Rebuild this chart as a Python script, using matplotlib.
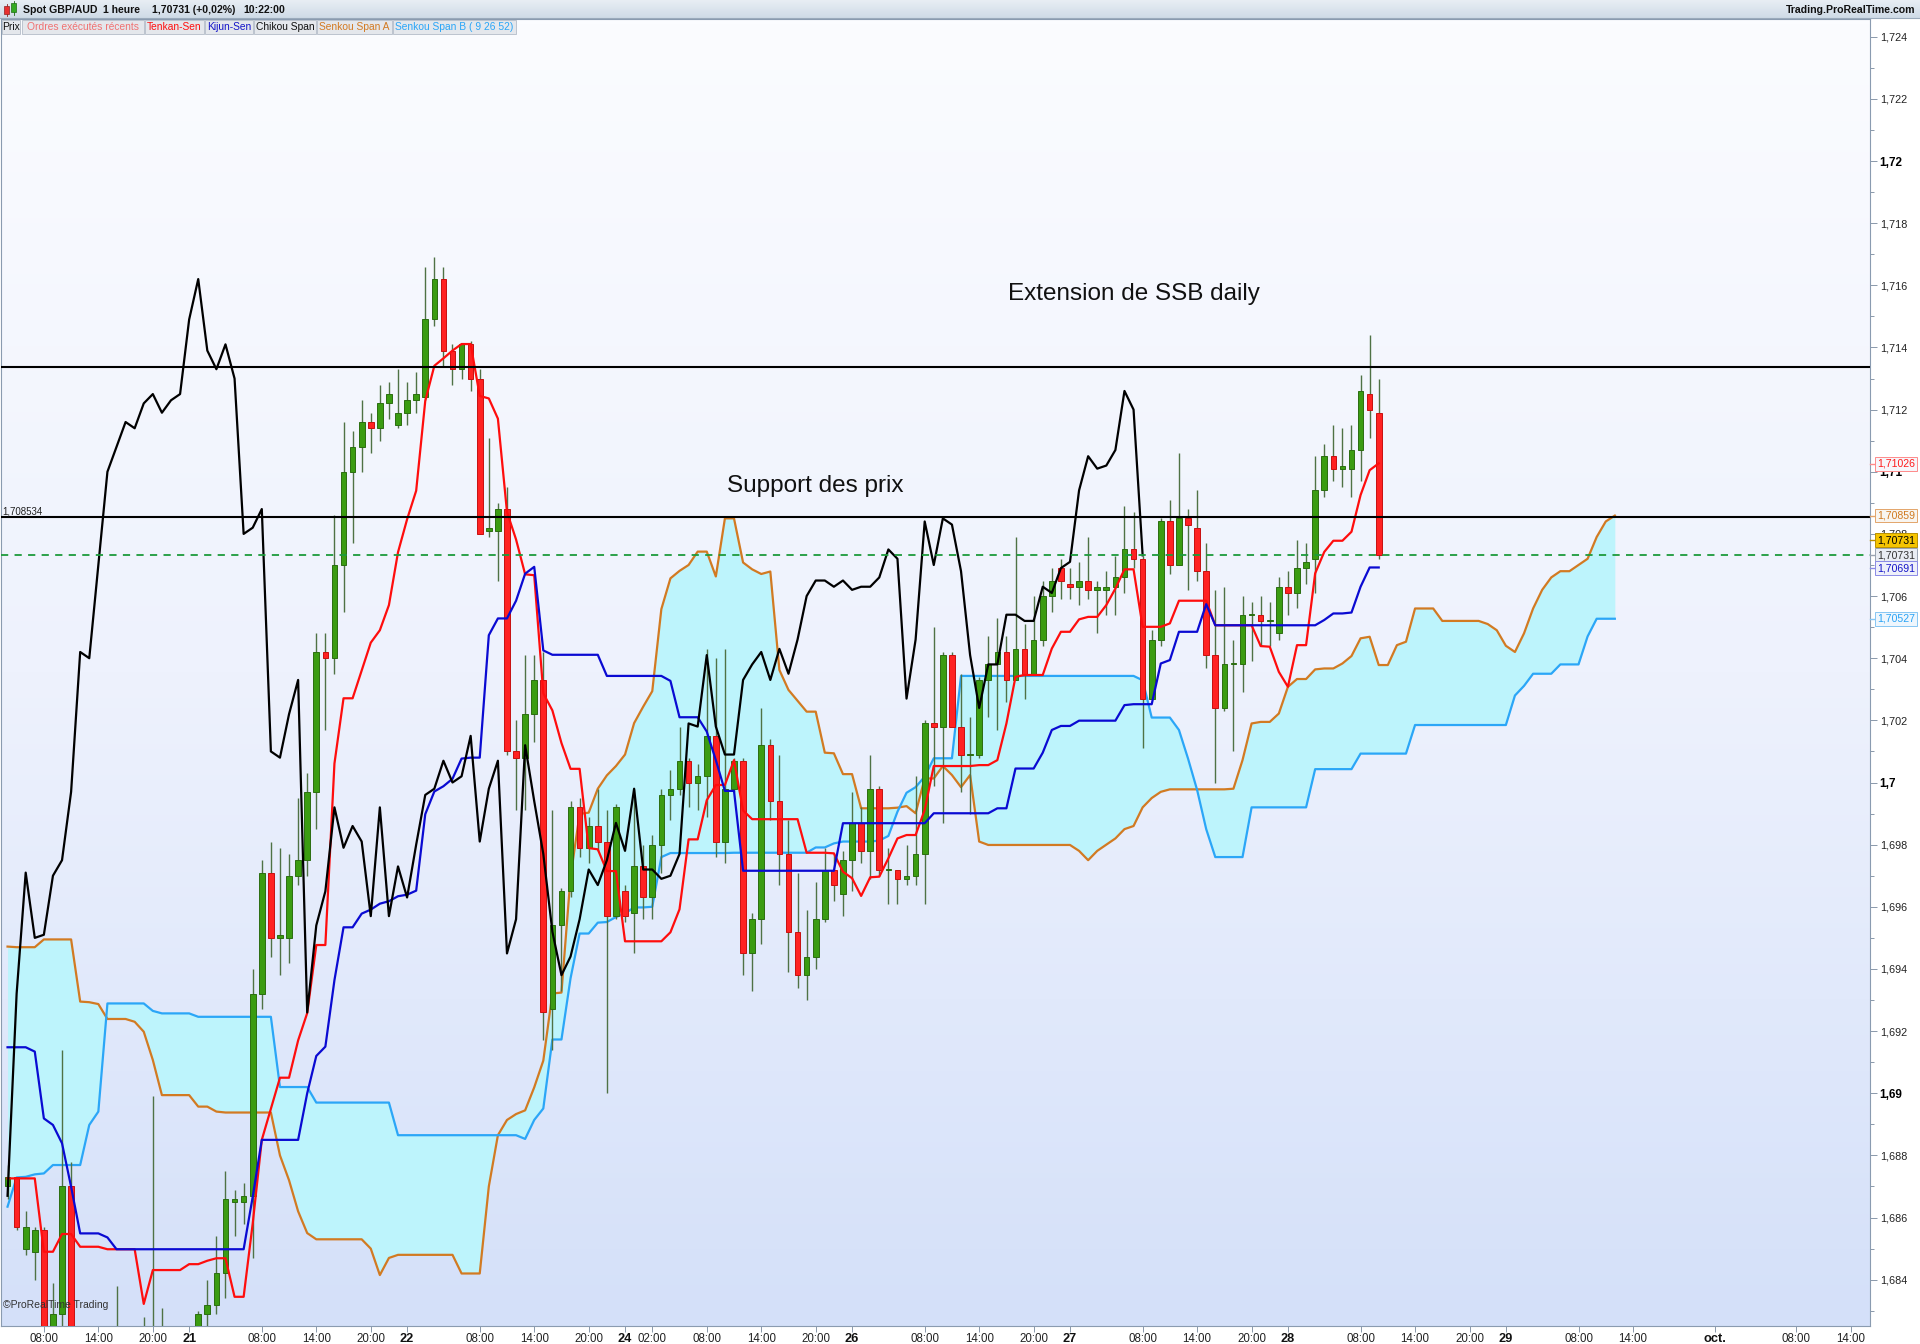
import numpy as np
import matplotlib
matplotlib.use("Agg")
import matplotlib.pyplot as plt
from matplotlib.colors import LinearSegmentedColormap
from matplotlib.patches import Rectangle
from matplotlib.transforms import blended_transform_factory

plt.rcParams['font.family'] = ['Liberation Sans', 'DejaVu Sans']

# ---------------- data (hourly bars, x = trading-hour index, 0 = 20 sept 00:00) -------------
FIRST_BAR = 4
SHIFT = 26

opens = [
    1.6870, 1.6873, 1.6850, 1.6849, 1.6856, 1.6812, 1.6829, 1.6870, 1.6795, 1.6790,
    1.6800, 1.6808, 1.6805, 1.6812, 1.6806, 1.6815, 1.6808, 1.6812, 1.6815, 1.6810,
    1.6812, 1.6818, 1.6829, 1.6832, 1.6842, 1.6865, 1.6865, 1.6867, 1.6932, 1.6971,
    1.6950, 1.6950, 1.6970, 1.6975, 1.6997, 1.7042, 1.7040, 1.7070, 1.7100, 1.7108,
    1.7116, 1.7114, 1.7122, 1.7115, 1.7119, 1.7123, 1.7124, 1.7149, 1.7162, 1.7139,
    1.7133, 1.7141, 1.7130, 1.7081, 1.7081, 1.7088, 1.7010, 1.7008, 1.7022, 1.7033,
    1.6927, 1.6954, 1.6965, 1.6992, 1.6979, 1.6986, 1.6981, 1.6957, 1.6965, 1.6958,
    1.6973, 1.6963, 1.6980, 1.6996, 1.6998, 1.7007, 1.7000, 1.7002, 1.7015, 1.6981,
    1.6998, 1.7007, 1.6945, 1.6956, 1.7012, 1.6994, 1.6977, 1.6952, 1.6938, 1.6944,
    1.6956, 1.6972, 1.6964, 1.6975, 1.6987, 1.6978, 1.6998, 1.6972, 1.6972, 1.6969,
    1.6970, 1.6977, 1.7019, 1.7018, 1.7041, 1.7018, 1.7009, 1.7009, 1.7033, 1.7038,
    1.7042, 1.7033, 1.7043, 1.7035, 1.7046, 1.7060, 1.7069, 1.7064, 1.7063, 1.7065,
    1.7062, 1.7062, 1.7063, 1.7066, 1.7075, 1.7072, 1.7027, 1.7046, 1.7084, 1.7070,
    1.7085, 1.7082, 1.7068, 1.7041, 1.7024, 1.7038, 1.7038, 1.7054, 1.7054, 1.7052,
    1.7048, 1.7063, 1.7061, 1.7069, 1.7072, 1.7094, 1.7105, 1.7101, 1.7101, 1.7107,
    1.7125, 1.7119,
]
highs = [
    1.6877, 1.6873, 1.6862, 1.6857, 1.6857, 1.6839, 1.6914, 1.6878, 1.6810, 1.6805,
    1.6815, 1.6818, 1.6838, 1.6820, 1.6824, 1.6828, 1.6899, 1.6831, 1.6822, 1.6820,
    1.6824, 1.6830, 1.6840, 1.6854, 1.6875, 1.6869, 1.6871, 1.6940, 1.6975, 1.6981,
    1.6979, 1.6977, 1.6995, 1.7003, 1.7048, 1.7048, 1.7086, 1.7116, 1.7113, 1.7123,
    1.7119, 1.7128, 1.7129, 1.7133, 1.7129, 1.7132, 1.7166, 1.7169, 1.7166, 1.7141,
    1.7141, 1.7142, 1.7133, 1.7111, 1.7090, 1.7095, 1.7020, 1.7041, 1.7041, 1.7042,
    1.6991, 1.6966, 1.6994, 1.6995, 1.6989, 1.6998, 1.6991, 1.6993, 1.6967, 1.6998,
    1.6980, 1.6983, 1.6998, 1.7004, 1.7018, 1.7008, 1.7006, 1.7043, 1.7040, 1.7043,
    1.7008, 1.7008, 1.6958, 1.7024, 1.7014, 1.7009, 1.6988, 1.6971, 1.6959, 1.6968,
    1.6979, 1.6977, 1.6978, 1.6997, 1.6992, 1.7009, 1.6999, 1.6979, 1.6972, 1.6980,
    1.7002, 1.7020, 1.7050, 1.7042, 1.7042, 1.7035, 1.7021, 1.7034, 1.7047, 1.7053,
    1.7047, 1.7079, 1.7051, 1.7060, 1.7065, 1.7069, 1.7072, 1.7069, 1.7071, 1.7079,
    1.7065, 1.7068, 1.7073, 1.7089, 1.7087, 1.7073, 1.7049, 1.7085, 1.7091, 1.7106,
    1.7088, 1.7094, 1.7077, 1.7062, 1.7063, 1.7046, 1.7060, 1.7058, 1.7060, 1.7058,
    1.7066, 1.7068, 1.7078, 1.7077, 1.7105, 1.7109, 1.7115, 1.7114, 1.7115, 1.7131,
    1.7144, 1.7130,
]
lows = [
    1.6866, 1.6856, 1.6848, 1.6840, 1.6805, 1.6805, 1.6822, 1.6790, 1.6780, 1.6778,
    1.6790, 1.6798, 1.6800, 1.6800, 1.6795, 1.6800, 1.6800, 1.6805, 1.6806, 1.6802,
    1.6805, 1.6812, 1.6822, 1.6829, 1.6834, 1.6854, 1.6858, 1.6847, 1.6927, 1.6944,
    1.6938, 1.6942, 1.6967, 1.6970, 1.6985, 1.7017, 1.7035, 1.7055, 1.7077, 1.7100,
    1.7106, 1.7110, 1.7117, 1.7114, 1.7115, 1.7119, 1.7123, 1.7147, 1.7134, 1.7128,
    1.7130, 1.7126, 1.7080, 1.7079, 1.7065, 1.7009, 1.6991, 1.6991, 1.7013, 1.6917,
    1.6914, 1.6933, 1.6963, 1.6976, 1.6974, 1.6978, 1.6900, 1.6956, 1.6955, 1.6945,
    1.6956, 1.6956, 1.6971, 1.6988, 1.6996, 1.6992, 1.6991, 1.6989, 1.6976, 1.6974,
    1.6997, 1.6938, 1.6933, 1.6948, 1.6988, 1.6967, 1.6939, 1.6934, 1.6930, 1.6940,
    1.6955, 1.6962, 1.6957, 1.6965, 1.6974, 1.6969, 1.6970, 1.6961, 1.6961, 1.6967,
    1.6967, 1.6961, 1.6999, 1.6987, 1.7018, 1.6997, 1.6990, 1.7008, 1.7021, 1.7017,
    1.7026, 1.7033, 1.7027, 1.7035, 1.7044, 1.7055, 1.7059, 1.7059, 1.7057, 1.7059,
    1.7048, 1.7054, 1.7054, 1.7061, 1.7069, 1.7011, 1.7027, 1.7044, 1.7067, 1.7070,
    1.7062, 1.7065, 1.7037, 1.7000, 1.7023, 1.7010, 1.7029, 1.7039, 1.7044, 1.7044,
    1.7046, 1.7054, 1.7056, 1.7064, 1.7061, 1.7092, 1.7097, 1.7095, 1.7092, 1.7097,
    1.7111, 1.7072,
]
closes = [
    1.6873, 1.6857, 1.6857, 1.6856, 1.6810, 1.6829, 1.6870, 1.6795, 1.6790, 1.6800,
    1.6808, 1.6805, 1.6812, 1.6806, 1.6815, 1.6808, 1.6812, 1.6815, 1.6810, 1.6812,
    1.6818, 1.6829, 1.6832, 1.6842, 1.6866, 1.6866, 1.6867, 1.6932, 1.6971, 1.6950,
    1.6951, 1.6970, 1.6975, 1.6997, 1.7042, 1.7040, 1.7070, 1.7100, 1.7108, 1.7116,
    1.7114, 1.7122, 1.7125, 1.7119, 1.7123, 1.7125, 1.7149, 1.7162, 1.7139, 1.7133,
    1.7141, 1.7130, 1.7080, 1.7082, 1.7088, 1.7010, 1.7008, 1.7022, 1.7033, 1.6926,
    1.6954, 1.6965, 1.6992, 1.6979, 1.6986, 1.6981, 1.6957, 1.6992, 1.6957, 1.6973,
    1.6963, 1.6980, 1.6996, 1.6998, 1.7007, 1.7000, 1.7002, 1.7015, 1.6981, 1.6998,
    1.7007, 1.6945, 1.6956, 1.7012, 1.6994, 1.6977, 1.6952, 1.6938, 1.6944, 1.6956,
    1.6972, 1.6967, 1.6975, 1.6987, 1.6978, 1.6998, 1.6972, 1.6972, 1.6969, 1.6970,
    1.6977, 1.7019, 1.7018, 1.7041, 1.7018, 1.7009, 1.7009, 1.7033, 1.7038, 1.7042,
    1.7033, 1.7043, 1.7035, 1.7046, 1.7060, 1.7065, 1.7065, 1.7063, 1.7065, 1.7062,
    1.7063, 1.7063, 1.7066, 1.7075, 1.7072, 1.7027, 1.7046, 1.7084, 1.7070, 1.7085,
    1.7083, 1.7068, 1.7041, 1.7024, 1.7038, 1.7038, 1.7054, 1.7054, 1.7052, 1.7052,
    1.7063, 1.7061, 1.7069, 1.7071, 1.7094, 1.7105, 1.7101, 1.7102, 1.7107, 1.7126,
    1.7120, 1.70731,
]
tenkan = [
    1.68726, 1.68726, 1.68726, 1.68726, 1.68490, 1.68490, 1.68547, 1.68547, 1.68506, 1.68506,
    1.68506, 1.68498, 1.68498, 1.68498, 1.68498, 1.68322, 1.68431, 1.68431, 1.68431, 1.68431,
    1.68450, 1.68450, 1.68461, 1.68469, 1.68469, 1.68345, 1.68345, 1.68581, 1.68850, 1.68950,
    1.69050, 1.69050, 1.69170, 1.69258, 1.69477, 1.69477, 1.70061, 1.70271, 1.70271, 1.70360,
    1.70450, 1.70490, 1.70571, 1.70741, 1.70847, 1.70939, 1.71228, 1.71341, 1.71365, 1.71390,
    1.71411, 1.71411, 1.71244, 1.71236, 1.71171, 1.70871, 1.70782, 1.70670, 1.70667, 1.70287,
    1.70232, 1.70127, 1.70044, 1.70044, 1.69789, 1.69785, 1.69715, 1.69715, 1.69489, 1.69489,
    1.69489, 1.69489, 1.69489, 1.69518, 1.69592, 1.69817, 1.69817, 1.69943, 1.69992, 1.69992,
    1.70072, 1.69910, 1.69882, 1.69882, 1.69882, 1.69882, 1.69882, 1.69882, 1.69774, 1.69774,
    1.69774, 1.69772, 1.69713, 1.69692, 1.69635, 1.69695, 1.69697, 1.69756, 1.69820, 1.69831,
    1.69831, 1.69912, 1.70053, 1.70053, 1.70053, 1.70053, 1.70053, 1.70056, 1.70056, 1.70072,
    1.70190, 1.70340, 1.70346, 1.70346, 1.70346, 1.70431, 1.70485, 1.70485, 1.70525, 1.70533,
    1.70533, 1.70571, 1.70624, 1.70686, 1.70686, 1.70501, 1.70501, 1.70501, 1.70512, 1.70585,
    1.70585, 1.70585, 1.70585, 1.70506, 1.70506, 1.70506, 1.70506, 1.70506, 1.70439, 1.70437,
    1.70356, 1.70308, 1.70442, 1.70442, 1.70673, 1.70742, 1.70778, 1.70778, 1.70807, 1.70925,
    1.71005, 1.71027,
]
kijun = [
    1.69148, 1.69148, 1.69148, 1.69134, 1.68919, 1.68898, 1.68839, 1.68699, 1.68549, 1.68549,
    1.68549, 1.68536, 1.68498, 1.68498, 1.68498, 1.68498, 1.68498, 1.68498, 1.68498, 1.68498,
    1.68498, 1.68498, 1.68498, 1.68498, 1.68498, 1.68498, 1.68498, 1.68667, 1.68850, 1.68850,
    1.68850, 1.68850, 1.68850, 1.69000, 1.69120, 1.69150, 1.69364, 1.69534, 1.69534, 1.69578,
    1.69591, 1.69610, 1.69618, 1.69634, 1.69639, 1.69652, 1.69898, 1.69971, 1.69988, 1.70012,
    1.70077, 1.70080, 1.70080, 1.70474, 1.70528, 1.70528, 1.70585, 1.70672, 1.70694, 1.70425,
    1.70411, 1.70411, 1.70411, 1.70411, 1.70411, 1.70411, 1.70343, 1.70343, 1.70343, 1.70343,
    1.70343, 1.70343, 1.70343, 1.70327, 1.70210, 1.70210, 1.70210, 1.70164, 1.70072, 1.69973,
    1.69973, 1.69716, 1.69716, 1.69716, 1.69716, 1.69716, 1.69716, 1.69716, 1.69716, 1.69716,
    1.69716, 1.69716, 1.69869, 1.69869, 1.69869, 1.69869, 1.69869, 1.69869, 1.69869, 1.69869,
    1.69869, 1.69869, 1.69901, 1.69901, 1.69901, 1.69901, 1.69901, 1.69901, 1.69901, 1.69917,
    1.69917, 1.70045, 1.70045, 1.70045, 1.70096, 1.70169, 1.70182, 1.70182, 1.70199, 1.70199,
    1.70199, 1.70199, 1.70199, 1.70249, 1.70252, 1.70252, 1.70252, 1.70383, 1.70394, 1.70485,
    1.70485, 1.70485, 1.70574, 1.70506, 1.70506, 1.70506, 1.70506, 1.70506, 1.70506, 1.70506,
    1.70506, 1.70506, 1.70506, 1.70506, 1.70506, 1.70523, 1.70544, 1.70544, 1.70547, 1.70630,
    1.70692, 1.70692,
]
senkou_a = [
    1.69472, 1.69470, 1.69470, 1.69470, 1.69495, 1.69495, 1.69495, 1.69495, 1.69295, 1.69293,
    1.69287, 1.69239, 1.69239, 1.69239, 1.69230, 1.69198, 1.69107, 1.68994, 1.68994, 1.68994,
    1.68994, 1.68957, 1.68957, 1.68941, 1.68938, 1.68938, 1.68938, 1.68938, 1.68938, 1.68938,
    1.68800, 1.68720, 1.68620, 1.68550, 1.68530, 1.68530, 1.68530, 1.68530, 1.68530, 1.68530,
    1.68500, 1.68415, 1.68470, 1.68480, 1.68480, 1.68480, 1.68480, 1.68480, 1.68480, 1.68480,
    1.68420, 1.68420, 1.68420, 1.68700, 1.68865, 1.68914, 1.68933, 1.68945, 1.69019, 1.69105,
    1.69321, 1.69324, 1.69696, 1.69899, 1.69903, 1.69980, 1.70023, 1.70053, 1.70090, 1.70191,
    1.70244, 1.70294, 1.70558, 1.70657, 1.70681, 1.70700, 1.70743, 1.70743, 1.70663, 1.70850,
    1.70850, 1.70708, 1.70686, 1.70671, 1.70679, 1.70362, 1.70298, 1.70263, 1.70228, 1.70228,
    1.70096, 1.70094, 1.70027, 1.70027, 1.69917, 1.69917, 1.69917, 1.69917, 1.69919, 1.69924,
    1.69901, 1.70013, 1.70013, 1.70053, 1.70024, 1.69985, 1.70024, 1.69810, 1.69799, 1.69799,
    1.69799, 1.69799, 1.69799, 1.69799, 1.69799, 1.69799, 1.69799, 1.69799, 1.69780, 1.69750,
    1.69780, 1.69800, 1.69820, 1.69850, 1.69860, 1.69920, 1.69950, 1.69970, 1.69978, 1.69978,
    1.69978, 1.69978, 1.69978, 1.69978, 1.69978, 1.69980, 1.70072, 1.70190, 1.70195, 1.70195,
    1.70222, 1.70308, 1.70333, 1.70333, 1.70364, 1.70367, 1.70367, 1.70383, 1.70407, 1.70464,
    1.70469, 1.70378, 1.70378, 1.70442, 1.70453, 1.70560, 1.70560, 1.70560, 1.70520, 1.70520,
    1.70520, 1.70520, 1.70520, 1.70510, 1.70490, 1.70440, 1.70420, 1.70480, 1.70560, 1.70620,
    1.70660, 1.70680, 1.70680, 1.70700, 1.70720, 1.70790, 1.70840, 1.70859,
]
senkou_b = [
    1.68635, 1.68729, 1.68731, 1.68739, 1.68742, 1.68769, 1.68769, 1.68769, 1.68769, 1.68898,
    1.68941, 1.69289, 1.69289, 1.69289, 1.69289, 1.69289, 1.69265, 1.69257, 1.69257, 1.69257,
    1.69257, 1.69246, 1.69246, 1.69246, 1.69246, 1.69246, 1.69246, 1.69246, 1.69246, 1.69246,
    1.69020, 1.69020, 1.69020, 1.69020, 1.68970, 1.68970, 1.68970, 1.68970, 1.68970, 1.68970,
    1.68970, 1.68970, 1.68970, 1.68865, 1.68865, 1.68865, 1.68865, 1.68865, 1.68865, 1.68865,
    1.68865, 1.68865, 1.68865, 1.68865, 1.68865, 1.68865, 1.68865, 1.68853, 1.68914, 1.68951,
    1.69173, 1.69173, 1.69370, 1.69514, 1.69514, 1.69549, 1.69551, 1.69567, 1.69579, 1.69598,
    1.69598, 1.69600, 1.69760, 1.69773, 1.69773, 1.69773, 1.69773, 1.69773, 1.69773, 1.69773,
    1.69774, 1.69774, 1.69774, 1.69774, 1.69774, 1.69774, 1.69774, 1.69774, 1.69774, 1.69791,
    1.69791, 1.69804, 1.69810, 1.69810, 1.69810, 1.69810, 1.69813, 1.69828, 1.69906, 1.69967,
    1.69985, 1.70019, 1.70078, 1.70078, 1.70078, 1.70343, 1.70343, 1.70343, 1.70343, 1.70343,
    1.70343, 1.70343, 1.70343, 1.70343, 1.70343, 1.70343, 1.70343, 1.70343, 1.70343, 1.70343,
    1.70343, 1.70343, 1.70343, 1.70343, 1.70343, 1.70329, 1.70209, 1.70209, 1.70209, 1.70169,
    1.70077, 1.69976, 1.69850, 1.69760, 1.69760, 1.69760, 1.69760, 1.69920, 1.69920, 1.69920,
    1.69920, 1.69920, 1.69920, 1.69920, 1.70043, 1.70043, 1.70043, 1.70043, 1.70043, 1.70093,
    1.70093, 1.70093, 1.70093, 1.70093, 1.70093, 1.70185, 1.70185, 1.70185, 1.70185, 1.70185,
    1.70185, 1.70185, 1.70185, 1.70185, 1.70185, 1.70185, 1.70280, 1.70311, 1.70350, 1.70350,
    1.70350, 1.70380, 1.70380, 1.70380, 1.70470, 1.70527, 1.70527, 1.70527,
]

xtick_pos = [8, 14, 20, 24, 32, 38, 44, 48, 56, 62, 68, 72, 75, 81, 87, 93, 97, 105, 111, 117,
             121, 129, 135, 141, 145, 153, 159, 165, 169, 177, 183, 192, 201, 207]
xtick_lab = ['08:00', '14:00', '20:00', '21', '08:00', '14:00', '20:00', '22', '08:00', '14:00',
             '20:00', '24', '02:00', '08:00', '14:00', '20:00', '26', '08:00', '14:00', '20:00',
             '27', '08:00', '14:00', '20:00', '28', '08:00', '14:00', '20:00', '29', '08:00',
             '14:00', 'oct.', '08:00', '14:00']
day_labels = ['21', '22', '24', '26', '27', '28', '29', 'oct.']

resistance = 1.71336
support = 1.708534
last_price = 1.70731

right_labels = [  # text, price, text colour, face, edge
    ('1,71026', 1.71026, '#ff1a1a', '#f6f6fa', '#ff8a8a'),
    ('1,70859', 1.70859, '#d07a20', '#f8f5f0', '#e3a56a'),
    ('1,70731', 1.70780, '#000000', '#f5c400', '#b89000'),
    ('1,70731', 1.70731, '#333333', '#e9edf3', '#9aa4b2'),
    ('1,70691', 1.70690, '#1414c8', '#eef0fa', '#8a8ae6'),
    ('1,70527', 1.70527, '#29a3f5', '#eef6fd', '#86c6f3'),
]

# ---------------- figure -------------
W, H = 1920, 1344
fig = plt.figure(figsize=(W / 100, H / 100), dpi=100)
fig.patch.set_facecolor('white')

PL, PR, PT, PB = 1, 1870, 19, 1326
ax = fig.add_axes([PL / W, 1 - PB / H, (PR - PL) / W, (PB - PT) / H])
xmin, xmax = 3.28, 209.1
ymin, ymax = 1.68251, 1.72457

bg = LinearSegmentedColormap.from_list('bg', ['#fbfcff', '#eef2fd', '#d4e0f9'])
ax.imshow(np.linspace(0, 1, 256).reshape(-1, 1), extent=(xmin, xmax, ymin, ymax),
          origin='upper', aspect='auto', cmap=bg, zorder=0)

t = np.arange(FIRST_BAR, FIRST_BAR + len(closes))
tc = np.arange(FIRST_BAR, FIRST_BAR + len(senkou_a))
o = np.array(opens); h = np.array(highs); l = np.array(lows); c = np.array(closes)

# cloud
ax.fill_between(tc, senkou_a, senkou_b, color='#bdf4fc', lw=0, zorder=1)
ax.plot(tc, senkou_a, color='#d27a22', lw=1.6, zorder=2)
ax.plot(tc, senkou_b, color='#2ba6f7', lw=1.6, zorder=2)

# candles
up = c >= o
ax.vlines(t, l, h, color='#4f7245', lw=1.0, zorder=3)
body_bot = np.minimum(o, c)
body_h = np.maximum(np.abs(c - o), 0.00003)
ax.bar(t[up], body_h[up], bottom=body_bot[up], width=0.62, color='#3b9c12',
       edgecolor='#2b6e10', lw=0.7, zorder=3.5)
ax.bar(t[~up], body_h[~up], bottom=body_bot[~up], width=0.62, color='#ff2222',
       edgecolor='#c81010', lw=0.7, zorder=3.5)

# Ichimoku lines
ax.plot(t, tenkan, color='#ff0d0d', lw=1.6, zorder=4)
ax.plot(t, kijun, color='#0a0ad2', lw=1.6, zorder=4)
ax.plot(t[SHIFT:] - SHIFT, c[SHIFT:], color='black', lw=1.6, zorder=4.2)

# horizontal levels
ax.axhline(resistance, color='black', lw=1.5, zorder=5)
ax.axhline(support, color='black', lw=1.5, zorder=5)
ax.axhline(last_price, color='#1d9a3c', lw=1.3, ls=(0, (4, 3.5)), zorder=5)
ax.text(xmin + 0.15, support + 0.00004, '1,708534', fontsize=7, color='#222222',
        va='bottom', ha='left', zorder=6)

ax.text(128.0, 1.71572, 'Extension de SSB daily', fontsize=17.5, ha='center', va='center',
        color='#111111', zorder=6)
ax.text(93.0, 1.70954, 'Support des prix', fontsize=17.5, ha='center', va='center',
        color='#111111', zorder=6)
ax.text(xmin + 0.2, 1.6832, '\u00a9ProRealTime Trading', fontsize=7.5, color='#333333',
        ha='left', va='center', zorder=6)

ax.set_xlim(xmin, xmax)
ax.set_ylim(ymin, ymax)

# y axis (right)
yt = np.round(np.arange(1.684, 1.72401, 0.002), 3)
def fmt(v):
    s = ('%.3f' % v).rstrip('0').rstrip('.')
    return s.replace('.', ',')
ax.yaxis.tick_right()
ax.set_yticks(yt)
ax.set_yticklabels([fmt(v) for v in yt])
ax.set_yticks(np.round(np.arange(1.683, 1.7245, 0.002), 3), minor=True)
ax.tick_params(axis='y', which='major', direction='out', length=5, width=0.7,
               color='#8a98aa', labelsize=7.8, pad=2, labelcolor='#222222')
ax.tick_params(axis='y', which='minor', direction='out', length=3, width=0.7, color='#8a98aa')
for lab, v in zip(ax.get_yticklabels(), yt):
    if abs(v * 100 - round(v * 100)) < 1e-6:
        lab.set_fontweight('bold')
        lab.set_fontsize(8.5)
        lab.set_color('#000000')

# x axis
ax.set_xticks(xtick_pos)
ax.set_xticklabels(xtick_lab)
ax.tick_params(axis='x', direction='out', length=4, width=0.7, color='#8a98aa',
               labelsize=8.3, pad=1, labelcolor='#222222')
for lab in ax.get_xticklabels():
    lab.set_fontfamily(['Liberation Sans Narrow', 'Liberation Sans'])
    if lab.get_text() in day_labels:
        lab.set_fontweight('bold')
        lab.set_fontsize(9.2)
        lab.set_color('#111111')

for sp in ax.spines.values():
    sp.set_color('#8a9bb0')
    sp.set_linewidth(0.8)

# right price boxes
tr = blended_transform_factory(ax.transAxes, ax.transData)
for txt, price, col, fc, ec in right_labels:
    ax.plot([1.0, 1.0035], [price, price], color=ec, lw=1.0, transform=tr, clip_on=False,
            zorder=9)
    ax.text(1.0036, price, txt, transform=tr, fontsize=7.6, color=col, ha='left', va='center',
            clip_on=False, zorder=10,
            bbox=dict(boxstyle='square,pad=0.18', fc=fc, ec=ec, lw=0.7))

# ---------------- overlay (header & legend) in pixel coordinates -------------
ov = fig.add_axes([0, 0, 1, 1], zorder=20)
ov.set_xlim(0, W)
ov.set_ylim(H, 0)
ov.axis('off')
ov.patch.set_alpha(0)

hdr = LinearSegmentedColormap.from_list('hdr', ['#e8eef4', '#cfdbe7'])
ov.imshow(np.linspace(0, 1, 32).reshape(-1, 1), extent=(0, W, 18, 0), aspect='auto',
          cmap=hdr, zorder=1)
ov.plot([0, W], [18, 18], color='#9aaabb', lw=0.8, zorder=2)
ov.set_xlim(0, W)
ov.set_ylim(H, 0)

# small candle icon
ov.add_patch(Rectangle((4, 6), 5, 8, fc='#e83030', ec='#902020', lw=0.5, zorder=3))
ov.plot([6.5, 6.5], [4, 16], color='#902020', lw=0.6, zorder=2.5)
ov.add_patch(Rectangle((11, 3), 5, 9, fc='#33aa22', ec='#1d6a14', lw=0.5, zorder=3))
ov.plot([13.5, 13.5], [1, 15], color='#1d6a14', lw=0.6, zorder=2.5)

hfont = dict(fontsize=7.6, fontweight='bold', color='#111111', va='center', zorder=4)
ov.text(23, 10, 'Spot GBP/AUD', ha='left', **hfont)
ov.text(103, 10, '1 heure', ha='left', **hfont)
ov.text(152, 10, '1,70731 (+0,02%)', ha='left', **hfont)
ov.text(243, 10, '10:22:00', ha='left', **hfont)
ov.text(1915, 10, 'Trading.ProRealTime.com', ha='right', **hfont)

legend_items = [
    ('Prix', '#111111', 2, 20),
    ('Ordres ex\u00e9cut\u00e9s r\u00e9cents', '#f07272', 22, 144),
    ('Tenkan-Sen', '#ff1010', 145, 204),
    ('Kijun-Sen', '#1414c8', 205, 253),
    ('Chikou Span', '#111111', 254, 316),
    ('Senkou Span A', '#d27a22', 317, 392),
    ('Senkou Span B ( 9 26 52)', '#2ba6f7', 393, 516),
]
for txt, col, x0, x1 in legend_items:
    ov.add_patch(Rectangle((x0, 19.5), x1 - x0, 14, fc='#e4e7ec', ec='#b4bcc8', lw=0.6, zorder=3))
    ov.text((x0 + x1) / 2, 26.8, txt, color=col, fontsize=7.4, ha='center', va='center', zorder=4)

fig.savefig('out.png', dpi=100, facecolor='white')
